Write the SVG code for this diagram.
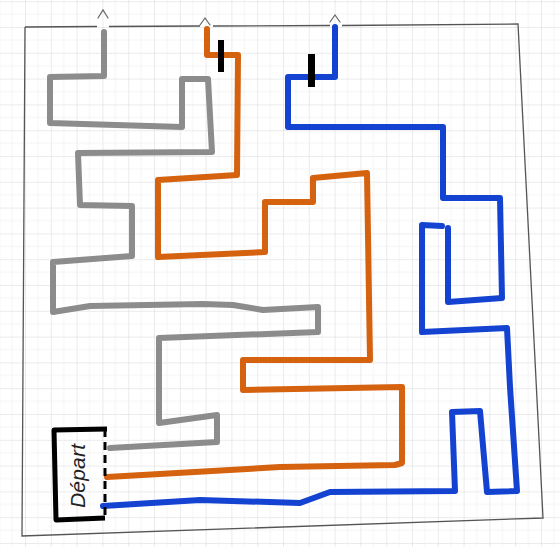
<svg xmlns="http://www.w3.org/2000/svg" width="560" height="547" viewBox="0 0 560 547">
<style>
.route{fill:none;stroke-width:6;stroke-linejoin:round;stroke-linecap:round}
.gray{stroke:#8c8c8c}
.orange{stroke:#d5620f}
.blue{stroke:#1443d2}
.frame{fill:none;stroke:#555;stroke-width:1.3}
.exit{fill:none;stroke:#666;stroke-width:1.2;stroke-linecap:round}
.bar{fill:#000}
.label{font-family:"Liberation Sans",sans-serif;font-style:italic;font-size:21px;fill:#222}
</style>
<defs>
<pattern id="grid" patternUnits="userSpaceOnUse" x="25" y="27" width="25.8" height="25.8">
<path d="M0 0H25.8M0 0V25.8" stroke="#cfcfcf" stroke-width="0.8" fill="none"/>
<path d="M0 12.9H25.8M12.9 0V25.8" stroke="#ececec" stroke-width="0.6" fill="none"/>
</pattern>
</defs>
<rect width="560" height="547" fill="#fff"/>
<rect width="560" height="547" fill="url(#grid)"/>
<g id="frame">
<path class="frame" d="M25 27L97 26.5M109 26.5L200 26M213 26L330 25.5M342 25.5L518 24L543 518L22 536L25 27"/>
</g>
<g id="connectors">
<path id="gray-route" class="route gray" d="M110 448L217 442L217 415L159 423L159 338L318 332L318 307L263 310L233 305L203 304L90 306L53 312L53 262L132 256L132 206L80 205L78 153L212 152L208 79L182 79L182 127L50 123L50 77L104 76L104 32"/>
<path id="orange-route" class="route orange" d="M107 477L280 467L395 465L402 463L402 387L243 390L243 360L370 360L367 173L313 178L313 202L265 202L265 252L158 257L158 180L237 175L238 55L207 55L207 29"/>
<path id="blue-route" class="route blue" d="M103 506L200 500L300 503L330 492L455 491L452 412L480 411L487 492L517 491L510 387L507 328L422 332L422 225L442 226M448 228L448 302L502 298L500 198L443 198L443 127L288 127L288 77L335 77L335 27"/>
</g>
<g id="exit-gray"><path class="exit" d="M98 18L103 10L108 18"/></g>
<g id="exit-orange"><path class="exit" d="M200 25L205 18L210 25"/></g>
<g id="exit-blue"><path class="exit" d="M330 22L335 15L340 22"/></g>
<g id="block-orange"><rect class="bar" x="218" y="40" width="6" height="32"/></g>
<g id="block-blue"><rect class="bar" x="308" y="54" width="7" height="33"/></g>
<g id="depart">
<path d="M107 429L54 430L56 520L105 518" fill="none" stroke="#000" stroke-width="5" stroke-linejoin="round"/>
<path d="M105 429L105 518" fill="none" stroke="#000" stroke-width="3" stroke-dasharray="8 5"/>
<text class="label" transform="translate(85 476) rotate(-90)" text-anchor="middle" textLength="64">Départ</text>
</g>
</svg>
